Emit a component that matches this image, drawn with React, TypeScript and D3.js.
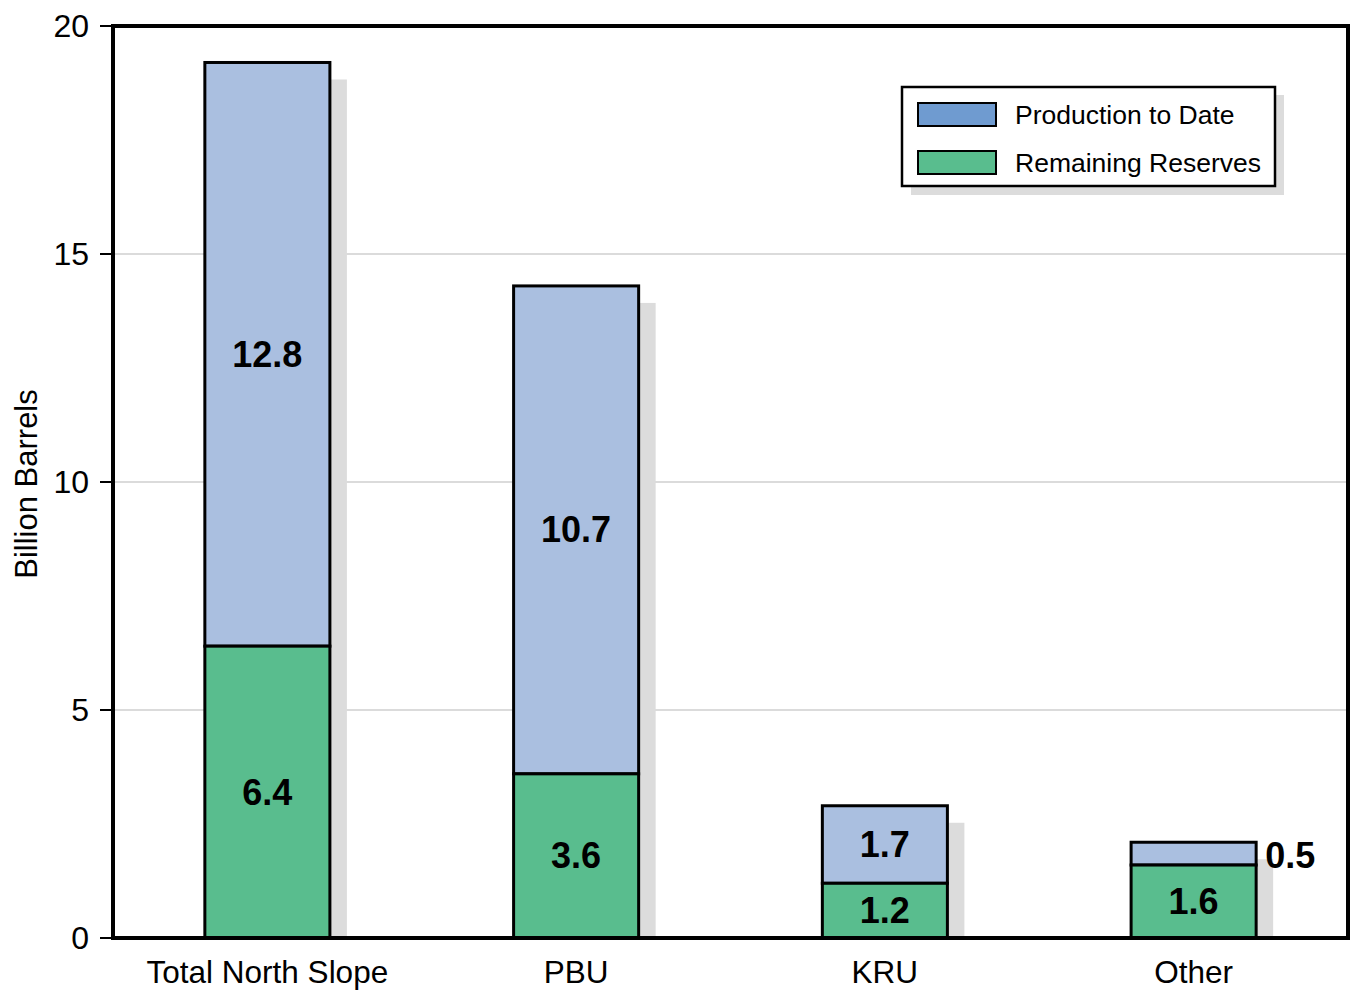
import React from "react";
import * as d3 from "d3";

const categories = ["Total North Slope", "PBU", "KRU", "Other"];
const remaining = [6.4, 3.6, 1.2, 1.6];
const production = [12.8, 10.7, 1.7, 0.5];
const yTicks = [0, 5, 10, 15, 20];
const seriesNames = ["Production to Date", "Remaining Reserves"];

const W = 1351, H = 994;
const left = 113, right = 1348, top = 26, bottom = 938;
const blueBar = "#aabfe0";
const blueLegend = "#6f9bd0";
const green = "#59bd8e";
const shadow = "#dcdcdc";
const font = "Liberation Sans, Arial, Helvetica, sans-serif";

export default function App() {
  const x = d3.scaleBand<string>().domain(categories).range([left, right]).paddingInner(0.595).paddingOuter(0.2975);
  const y = d3.scaleLinear().domain([0, 20]).range([bottom, top]);
  const bw = x.bandwidth();
  const off = 17;

  return (
    <svg width={W} height={H} style={{ position: "absolute", left: 0, top: 0, background: "#fff" }} fontFamily={font}>
      {yTicks.filter(t => t > 0 && t < 20).map(t => (
        <line key={t} x1={left} x2={right} y1={y(t)} y2={y(t)} stroke="#cfcfcf" strokeWidth={1.5} />
      ))}
      {categories.map((c, i) => {
        const total = remaining[i] + production[i];
        return (
          <rect key={"s" + c} x={x(c)! + off} y={y(total) + off} width={bw} height={bottom - y(total) - off} fill={shadow} />
        );
      })}
      {categories.map((c, i) => {
        const x0 = x(c)!;
        const r = remaining[i];
        const p = production[i];
        return (
          <g key={c}>
            <rect x={x0} y={y(r + p)} width={bw} height={y(r) - y(r + p)} fill={blueBar} stroke="#000" strokeWidth={3} />
            <rect x={x0} y={y(r)} width={bw} height={y(0) - y(r)} fill={green} stroke="#000" strokeWidth={3} />
          </g>
        );
      })}
      {categories.map((c, i) => {
        const cx = x(c)! + bw / 2;
        const r = remaining[i];
        const p = production[i];
        const outside = p < 1;
        return (
          <g key={"l" + c} fontWeight="bold" fontSize={36} fill="#000">
            <text x={cx} y={(y(0) + y(r)) / 2} textAnchor="middle" dominantBaseline="central">{r.toFixed(1)}</text>
            {outside ? (
              <text x={x(c)! + bw + 9} y={(y(r) + y(r + p)) / 2 + 2} textAnchor="start" dominantBaseline="central">{p.toFixed(1)}</text>
            ) : (
              <text x={cx} y={(y(r) + y(r + p)) / 2} textAnchor="middle" dominantBaseline="central">{p.toFixed(1)}</text>
            )}
          </g>
        );
      })}
      <rect x={left} y={top} width={right - left} height={bottom - top} fill="none" stroke="#000" strokeWidth={4} />
      {yTicks.map(t => (
        <g key={"t" + t}>
          <line x1={left - 13} x2={left} y1={y(t)} y2={y(t)} stroke="#000" strokeWidth={2} />
          <text x={89} y={y(t)} textAnchor="end" dominantBaseline="central" fontSize={32} fill="#000">{t}</text>
        </g>
      ))}
      {categories.map(c => (
        <text key={"x" + c} x={x(c)! + bw / 2} y={972} textAnchor="middle" dominantBaseline="central" fontSize={31.5} fill="#000">{c}</text>
      ))}
      <text transform={`translate(26,${(top + bottom) / 2 + 2}) rotate(-90)`} textAnchor="middle" dominantBaseline="central" fontSize={31} fill="#000">Billion Barrels</text>
      <g>
        <rect x={911} y={95} width={373} height={100} fill={shadow} />
        <rect x={902} y={87} width={373} height={99} fill="#fff" stroke="#000" strokeWidth={2.5} />
        {seriesNames.map((s, i) => (
          <g key={s}>
            <rect x={918} y={103 + i * 48} width={78} height={23} fill={i === 0 ? blueLegend : green} stroke="#000" strokeWidth={2} />
            <text x={1015} y={115 + i * 48} dominantBaseline="central" fontSize={26.5} fill="#000">{s}</text>
          </g>
        ))}
      </g>
    </svg>
  );
}
